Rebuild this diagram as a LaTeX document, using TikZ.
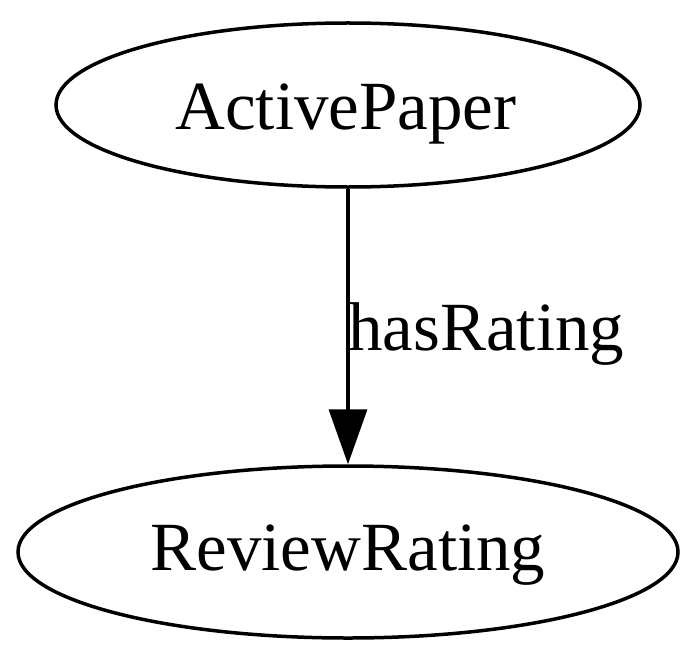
\documentclass[tikz,border=0pt]{standalone}
\usepackage{fontspec}
\setmainfont{Liberation Serif}
\usetikzlibrary{shapes.geometric,arrows.meta}
\begin{document}
\begin{tikzpicture}[x=1bp,y=-1bp,
  ell/.style={draw,line width=3.5bp,ellipse,inner sep=0pt},
  lbl/.style={font=\fontsize{69bp}{80bp}\selectfont,inner sep=0pt},
  edge/.style={line width=3.5bp,-{Triangle[length=55bp,width=38bp]}}]
\useasboundingbox (0,0) rectangle (700,660);
\node[ell,minimum width=584bp,minimum height=164bp] (ap) at (348,105) {};
\node[lbl,anchor=base] (apt) at (346,130) {ActivePaper};
\node[ell,minimum width=660bp,minimum height=172bp] (rr) at (348,552) {};
\node[lbl,anchor=base] (rrt) at (348,570) {ReviewRating};
\draw[edge] (ap.south) -- (rr.north);
\node[lbl,anchor=base west] (et) at (348,350) {hasRating};
\end{tikzpicture}
\end{document}
